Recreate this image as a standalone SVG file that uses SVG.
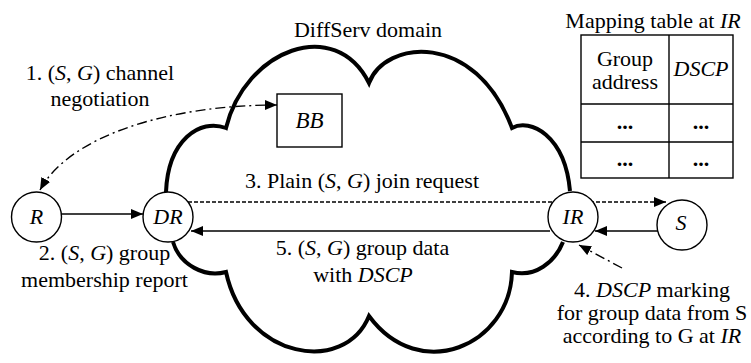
<svg xmlns="http://www.w3.org/2000/svg" width="751" height="363" viewBox="0 0 751 363">
<style>
text{font-family:"Liberation Serif","Times New Roman",serif;font-size:22px;fill:#000}
.c{text-anchor:middle}
.i{font-style:italic}
.b{font-weight:bold}
.node{fill:#fff;stroke:#000;stroke-width:1.4}
.ln{fill:none;stroke:#000;stroke-width:1.4}
.dash{stroke-dasharray:4 2}
.dd{stroke-dasharray:10 4 2 4}
.cloud{fill:none;stroke:#000;stroke-width:4;stroke-linejoin:miter}
</style>
<defs>
<marker id="ah" viewBox="0 0 12 10" refX="12" refY="5" markerWidth="12" markerHeight="10" markerUnits="userSpaceOnUse" orient="auto-start-reverse">
<path d="M0,0 L12,5 L0,10 z" fill="#000"/>
</marker>
</defs>
<g id="cloud">
<path class="cloud" d="M166 192 C168 140,200 118,226 128 C245 50,335 15,369 83 C385 40,475 30,512 128 C530 118,565 135,570 191"/>
<path class="cloud" d="M563 242 C555 262,535 278,512 272 C510 345,420 385,369 316 C345 375,245 360,226 272 C205 278,180 265,173 242"/>
<text class="c" x="368" y="37">DiffServ domain</text>
</g>
<g id="connectors">
<path class="ln dd" d="M40 190 C70 135,170 105,277 105" marker-start="url(#ah)" marker-end="url(#ah)"/>
<line class="ln" x1="61" y1="214" x2="143" y2="214" marker-end="url(#ah)"/>
<line class="ln dash" x1="188" y1="202" x2="666" y2="202" marker-end="url(#ah)"/>
<line class="ln" x1="550" y1="231" x2="191" y2="231" marker-end="url(#ah)"/>
<line class="ln" x1="658" y1="231" x2="595" y2="231" marker-end="url(#ah)"/>
<line class="ln dd" x1="622" y1="268" x2="579" y2="245" marker-end="url(#ah)"/>
</g>
<g id="BB">
<rect x="277" y="94" width="65" height="53" fill="#fff" stroke="#000" stroke-width="1.4"/>
<text class="c i" x="309.5" y="128" style="font-size:23px">BB</text>
</g>
<g id="R">
<circle class="node" cx="36.5" cy="217" r="25"/>
<text class="c i" x="36.5" y="224">R</text>
</g>
<g id="DR">
<circle class="node" cx="168" cy="217" r="25"/>
<text class="c i" x="168" y="224">DR</text>
</g>
<g id="IR">
<circle class="node" cx="573" cy="217" r="25"/>
<text class="c i" x="573" y="224">IR</text>
</g>
<g id="S">
<circle class="node" cx="682" cy="225" r="25"/>
<text class="c i" x="681" y="230">S</text>
</g>
<g id="table">
<text class="c" x="653" y="28">Mapping table at <tspan class="i">IR</tspan></text>
<rect x="581" y="35" width="152" height="143" fill="#fff" stroke="#000" stroke-width="1.4"/>
<line class="ln" x1="669" y1="35" x2="669" y2="178"/>
<line class="ln" x1="581" y1="104" x2="733" y2="104"/>
<line class="ln" x1="581" y1="142" x2="733" y2="142"/>
<text class="c" x="625" y="66">Group</text>
<text class="c" x="625" y="89">address</text>
<text class="c i" x="701" y="76">DSCP</text>
<text class="c b" x="625" y="129">...</text>
<text class="c b" x="701" y="129">...</text>
<text class="c b" x="625" y="166">...</text>
<text class="c b" x="701" y="166">...</text>
</g>
<g id="labels">
<text class="c" x="100" y="80">1. (<tspan class="i">S</tspan>, <tspan class="i">G</tspan>) channel</text>
<text class="c" x="100" y="106">negotiation</text>
<text class="c" x="104.5" y="260">2. (<tspan class="i">S</tspan>, <tspan class="i">G</tspan>) group</text>
<text class="c" x="104.5" y="287">membership report</text>
<text class="c" x="362" y="188">3. Plain (<tspan class="i">S</tspan>, <tspan class="i">G</tspan>) join request</text>
<text class="c" x="362.5" y="255">5. (<tspan class="i">S</tspan>, <tspan class="i">G</tspan>) group data</text>
<text class="c" x="363" y="282">with <tspan class="i">DSCP</tspan></text>
<text class="c" x="652" y="297">4. <tspan class="i">DSCP</tspan> marking</text>
<text class="c" x="652" y="320">for group data from S</text>
<text class="c" x="652" y="343">according to G at <tspan class="i">IR</tspan></text>
</g>
</svg>
